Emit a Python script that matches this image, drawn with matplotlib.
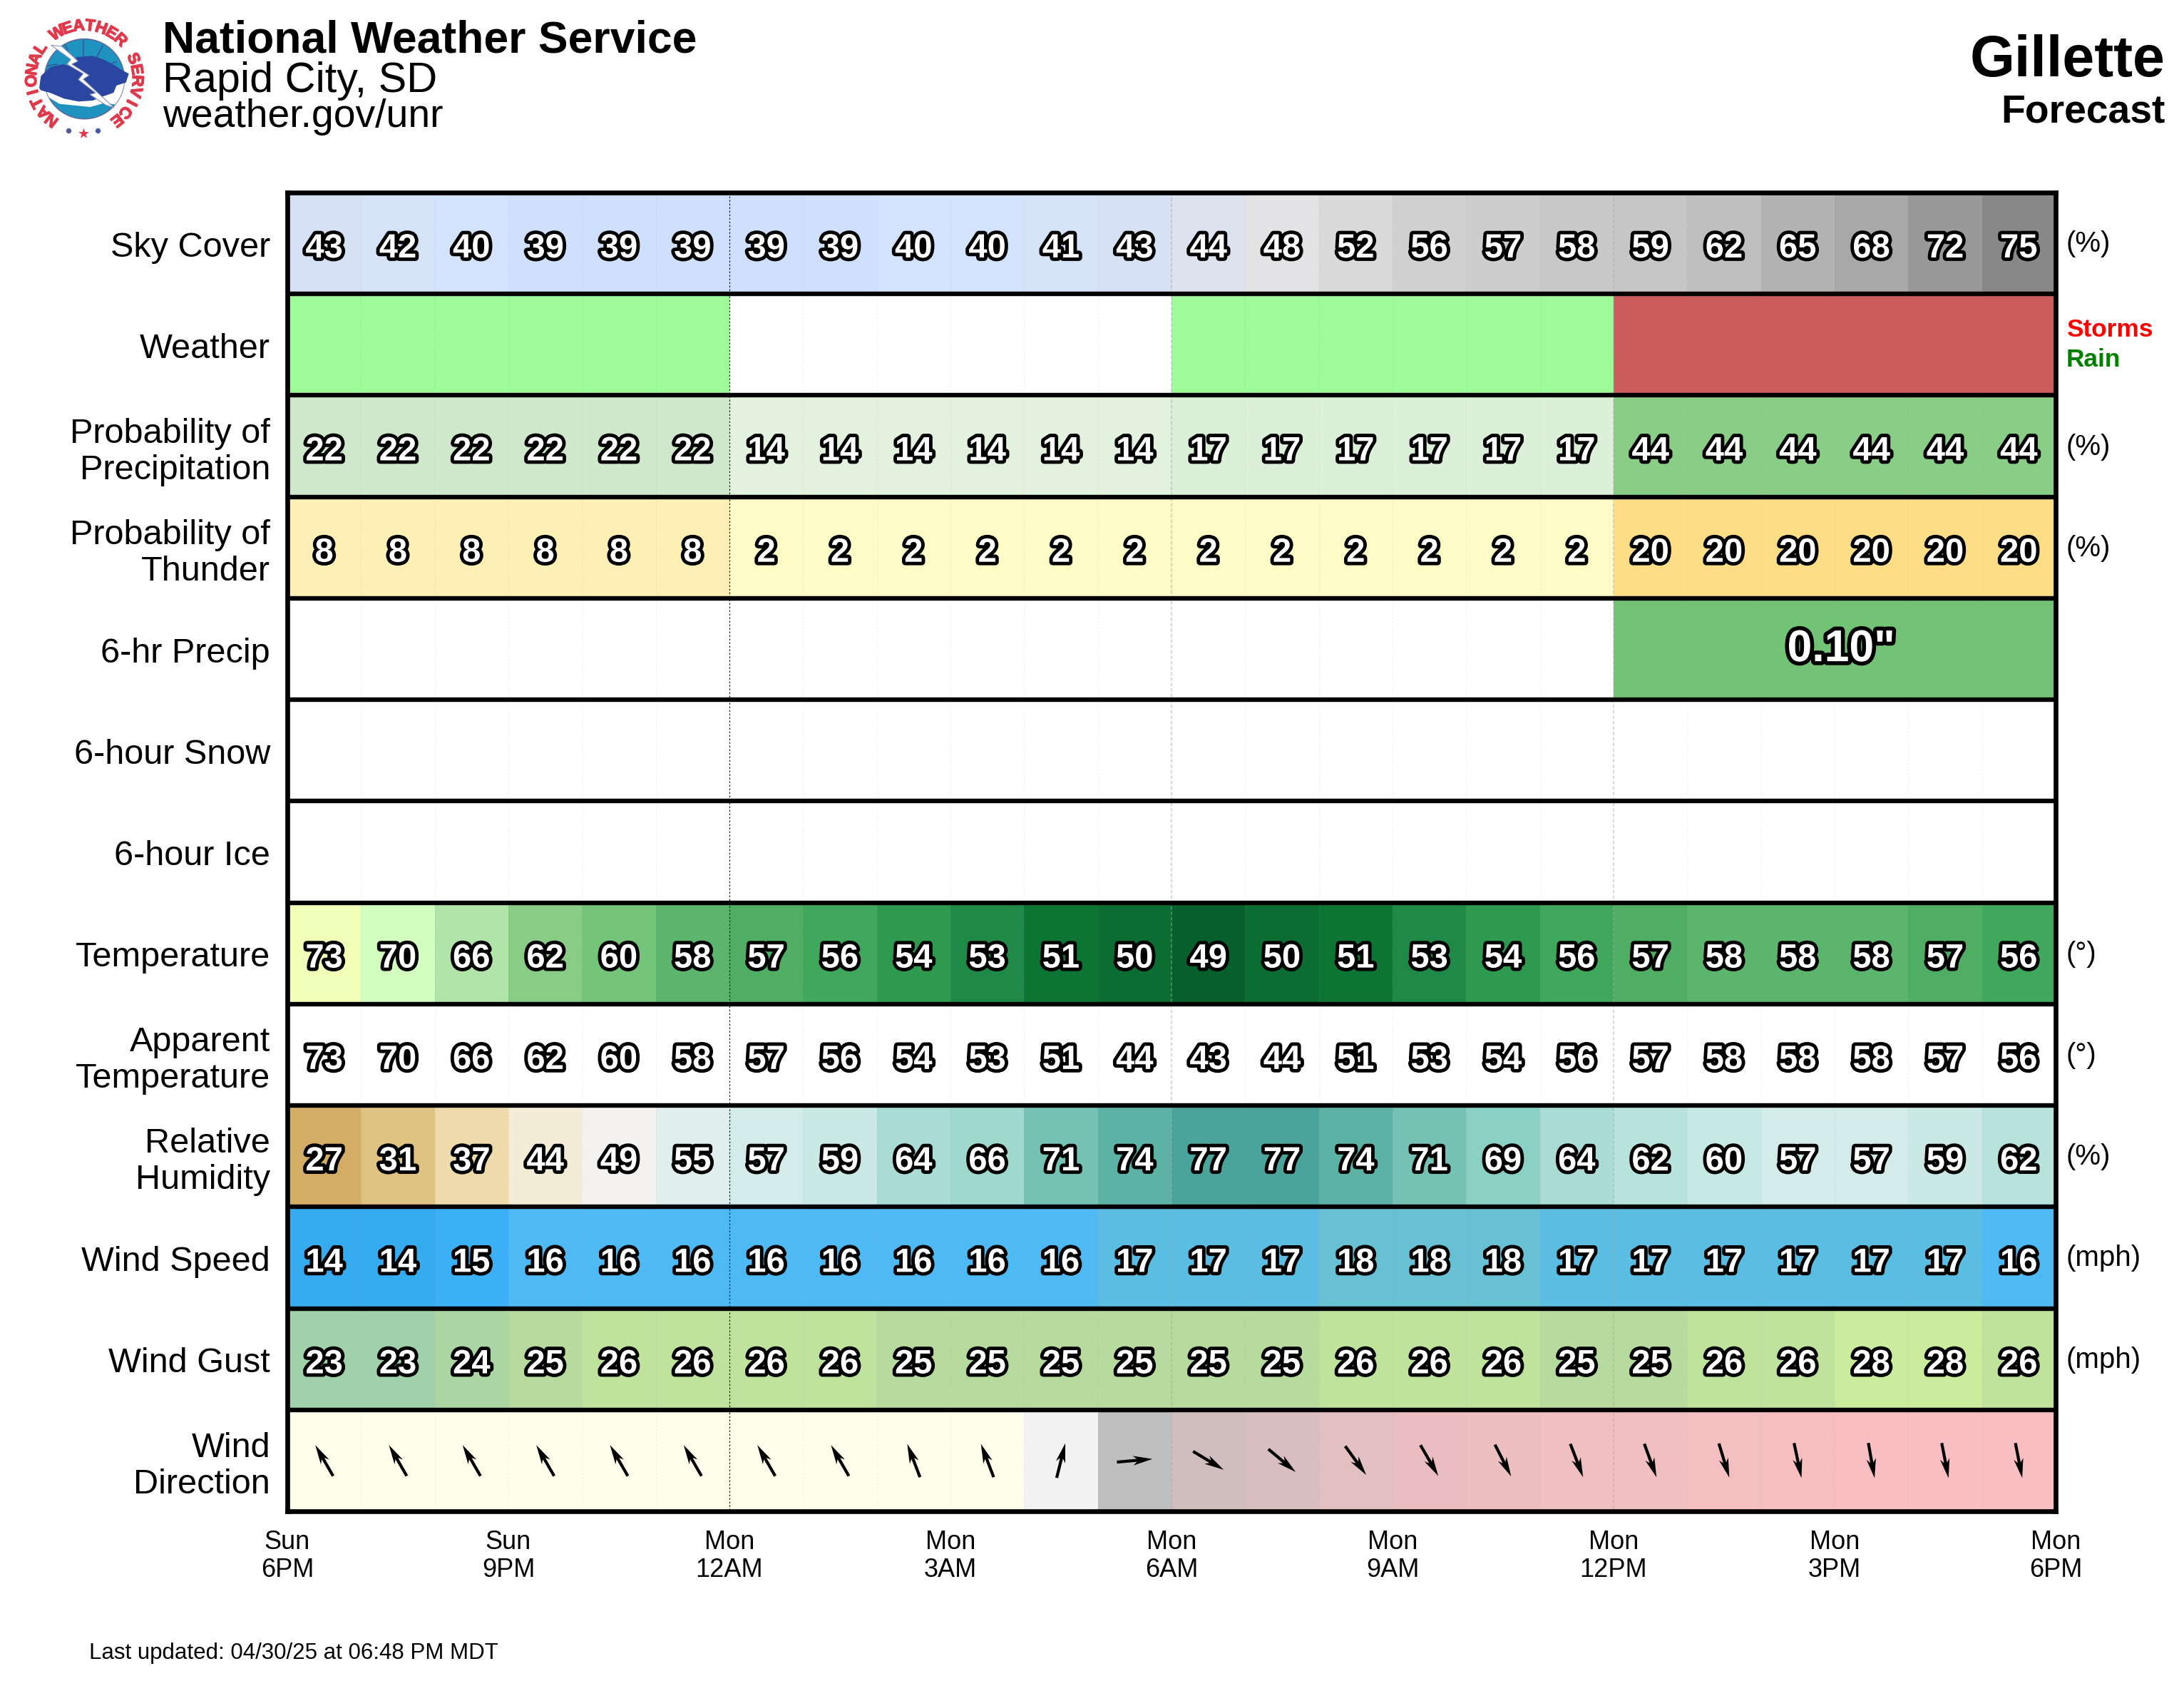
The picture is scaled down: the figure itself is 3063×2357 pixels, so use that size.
import numpy as np
import matplotlib
matplotlib.use("Agg")
import matplotlib.pyplot as plt
import matplotlib.patheffects as pe
from matplotlib.patches import Circle, Polygon

plt.rcParams['font.family'] = ['Liberation Sans', 'DejaVu Sans']

W, H, DPI = 3063, 2357, 200

# ---------- data ----------
row_labels = ["Sky Cover", "Weather", "Probability of\nPrecipitation", "Probability of\nThunder",
              "6-hr Precip", "6-hour Snow", "6-hour Ice", "Temperature", "Apparent\nTemperature",
              "Relative\nHumidity", "Wind Speed", "Wind Gust", "Wind\nDirection"]
tick_labels = ["Sun\n6PM", "Sun\n9PM", "Mon\n12AM", "Mon\n3AM", "Mon\n6AM", "Mon\n9AM",
               "Mon\n12PM", "Mon\n3PM", "Mon\n6PM"]
unit_labels = {0: "(%)", 2: "(%)", 3: "(%)", 7: "(°)", 8: "(°)", 9: "(%)", 10: "(mph)", 11: "(mph)"}

sky = [43, 42, 40, 39, 39, 39, 39, 39, 40, 40, 41, 43, 44, 48, 52, 56, 57, 58, 59, 62, 65, 68, 72, 75]
weather = ["rain"] * 6 + ["none"] * 6 + ["rain"] * 6 + ["storms"] * 6
pop = [22] * 6 + [14] * 6 + [17] * 6 + [44] * 6
thunder = [8] * 6 + [2] * 12 + [20] * 6
temp = [73, 70, 66, 62, 60, 58, 57, 56, 54, 53, 51, 50, 49, 50, 51, 53, 54, 56, 57, 58, 58, 58, 57, 56]
apparent = [73, 70, 66, 62, 60, 58, 57, 56, 54, 53, 51, 44, 43, 44, 51, 53, 54, 56, 57, 58, 58, 58, 57, 56]
humidity = [27, 31, 37, 44, 49, 55, 57, 59, 64, 66, 71, 74, 77, 77, 74, 71, 69, 64, 62, 60, 57, 57, 59, 62]
wind_speed = [14, 14, 15, 16, 16, 16, 16, 16, 16, 16, 16, 17, 17, 17, 18, 18, 18, 17, 17, 17, 17, 17, 17, 16]
wind_gust = [23, 23, 24, 25, 26, 26, 26, 26, 25, 25, 25, 25, 25, 25, 26, 26, 26, 25, 25, 26, 26, 28, 28, 26]
wind_dir = [150, 150, 150, 150, 150, 150, 150, 150, 159, 159, 194, 265,
            301, 310, 324, 330, 333, 339, 340, 343, 348, 350, 349, 349]
qpf_text = '0.10"'
qpf_hours = [18, 24]

sky_colors = {43: "#d6e1f5", 42: "#d6e2f8", 40: "#d3e2fd", 39: "#cfe0fe", 41: "#d6e2f7", 44: "#dde3ee",
              48: "#e3e3e6", 52: "#dadada", 56: "#d0d0d0", 57: "#cdcdcd", 58: "#c8c8c8", 59: "#c6c6c6",
              62: "#bfbfbf", 65: "#b3b3b3", 68: "#a8a8a8", 72: "#999999", 75: "#888888"}
weather_colors = {"rain": "#9dfb98", "none": "#ffffff", "storms": "#cc5c5c"}
pop_colors = {22: "#cfe8cc", 14: "#e3f2df", 17: "#dcefd8", 44: "#89cd87"}
thunder_colors = {8: "#fef0b4", 2: "#fefbc6", 20: "#fedd87"}
qpf_color = "#72c375"
temp_colors = {73: "#f2ffb6", 70: "#d2ffc0", 66: "#b0e4a8", 62: "#88cc85", 60: "#74c47a", 58: "#5bb56c",
               57: "#50ae64", 56: "#3fa85c", 54: "#2e9a50", 53: "#1f8a47", 51: "#0d7534", 50: "#0b6d31",
               49: "#075f2b"}
rh_colors = {27: "#d3ad66", 31: "#e0c283", 37: "#efdaab", 44: "#f5ecd7", 49: "#f3f2ee", 55: "#e0efee",
             57: "#d3ece9", 59: "#cbe9e4", 60: "#c7e9e4", 62: "#b8e3dd", 64: "#aadcd5", 66: "#9fd8cd",
             69: "#8ad0c4", 71: "#75c1b4", 74: "#5db2a6", 77: "#4ba49b"}
speed_colors = {14: "#36abef", 15: "#3bb0f6", 16: "#4fb9f4", 17: "#5bbde2", 18: "#68c0d3"}
gust_colors = {23: "#a0d1aa", 24: "#abd6a3", 25: "#b7da9e", 26: "#bfe29c", 28: "#cbec9c"}
dir_colors = ["#fffeea"] * 10 + ["#f2f2f2", "#bfbfbf", "#d0bdbd", "#d8bec0", "#e2bfc0", "#eabec0", "#edbfc1",
              "#efbfc1", "#f1bfc1", "#f3bfc1", "#f7bec0", "#f8bec1", "#f8bec1", "#f8bec1"]

# ---------- figure ----------
fig = plt.figure(figsize=(W / DPI, H / DPI), dpi=DPI, facecolor="white")
L, R, T, B = 403, 2883, 270, 2119
ax = fig.add_axes([L / W, 1 - B / H, (R - L) / W, (B - T) / H])
ax.set_xlim(0, 24)
ax.set_ylim(13, 0)
ax.set_xticks([])
ax.set_yticks([])
ax.set_zorder(2)
for s in ax.spines.values():
    s.set_linewidth(2.4)
    s.set_zorder(6)

hours = np.arange(24)


def fill(row, colors):
    ax.bar(hours, 1, width=1.0, bottom=row, align="edge", color=colors, linewidth=0, zorder=1)


def numbers(row, vals):
    for h, v in zip(hours, vals):
        ax.text(h + 0.5, row + 0.64, str(v), ha="center", va="baseline", color="white", fontsize=17.0,
                fontweight="bold", zorder=5,
                path_effects=[pe.withStroke(linewidth=3.5, foreground="black")])


fill(0, [sky_colors[v] for v in sky])
fill(1, [weather_colors[v] for v in weather])
fill(2, [pop_colors[v] for v in pop])
fill(3, [thunder_colors[v] for v in thunder])
fill(4, [qpf_color if qpf_hours[0] <= h < qpf_hours[1] else "#ffffff" for h in hours])
fill(7, [temp_colors[v] for v in temp])
fill(9, [rh_colors[v] for v in humidity])
fill(10, [speed_colors[v] for v in wind_speed])
fill(11, [gust_colors[v] for v in wind_gust])
fill(12, dir_colors)

# grid
ax.vlines(np.arange(1, 24), 0, 13, color="#999999", alpha=0.15, lw=0.4, ls=(0, (2, 2)), zorder=2)
ax.vlines([12, 18], 0, 13, color="#aaaaaa", alpha=0.55, lw=0.55, ls=(0, (3, 2)), zorder=2)
ax.vlines([6], 0, 13, color="#222222", lw=0.45, ls=(0, (2, 2)), zorder=2)
ax.hlines(np.arange(1, 13), 0, 24, color="black", lw=2.3, zorder=4)

numbers(0, sky)
numbers(2, pop)
numbers(3, thunder)
numbers(7, temp)
numbers(8, apparent)
numbers(9, humidity)
numbers(10, wind_speed)
numbers(11, wind_gust)
ax.text(sum(qpf_hours) / 2 + 0.09, 4.62, qpf_text, ha="center", va="baseline", color="white", fontsize=22.5,
        fontweight="bold", zorder=5, path_effects=[pe.withStroke(linewidth=4.0, foreground="black")])

# wind arrows: they point where the wind blows to
head = np.deg2rad(np.array(wind_dir) + 180)
ARROW = 50
ax.quiver(hours + 0.5, np.full(24, 12.5), ARROW * np.sin(head), ARROW * np.cos(head), angles="uv",
          scale_units="dots", scale=1, units="dots", width=4.2, headwidth=3.2, headlength=6.5,
          headaxislength=5.2, pivot="mid", color="black", zorder=5)


def ftext(x, y, s, **kw):
    fig.text(x / W, 1 - y / H, s, **kw)


# labels
for i, lab in enumerate(row_labels):
    yc = T + (B - T) * (i + 0.5) / 13
    ftext(379, yc + (8 if "\n" in lab else 6), lab, ha="right", va="center", fontsize=17.5, linespacing=1.17)
for i, u in unit_labels.items():
    yc = T + (B - T) * (i + 0.5) / 13
    ftext(2898, yc + 1, u, ha="left", va="center", fontsize=14.5)
ftext(2898, 472, "Storms", ha="left", va="baseline", fontsize=12.7, fontweight="bold", color="#ff0000")
ftext(2898, 514, "Rain", ha="left", va="baseline", fontsize=12.7, fontweight="bold", color="#008000")

for k, lab in enumerate(tick_labels):
    x = L + (R - L) * k * 3 / 24
    ftext(x, 2182, lab, ha="center", va="center", fontsize=13, linespacing=1.18)

ftext(228, 74, "National Weather Service", ha="left", va="baseline", fontsize=22.5, fontweight="bold")
ftext(228, 129, "Rapid City, SD", ha="left", va="baseline", fontsize=21.4)
ftext(228, 178, "weather.gov/unr", ha="left", va="baseline", fontsize=19.9)
ftext(3037, 107, "Gillette", ha="right", va="baseline", fontsize=29.1, fontweight="bold")
ftext(3037, 172, "Forecast", ha="right", va="baseline", fontsize=19.9, fontweight="bold")
ftext(125, 2326, "Last updated: 04/30/25 at 06:48 PM MDT", ha="left", va="baseline", fontsize=11.25)

# ---------- logo ----------
lg = fig.add_axes([20 / W, 1 - 205 / H, 200 / W, 190 / H])
lg.set_xlim(0, 600)
lg.set_ylim(570, 0)
lg.axis("off")
TEAL, NAVY, RED = "#1f93bf", "#2b46a0", "#e0394c"
disk = Circle((295, 287), 168, fc=TEAL, ec="#5a6aa0", lw=0.6, zorder=1)
lg.add_patch(disk)
band = Polygon([(100, 330), (470, 300), (470, 350), (425, 395), (380, 388), (320, 405), (250, 398), (190, 392),
                (120, 350)], fc="white", ec="none", zorder=2)
lg.add_patch(band)
band.set_clip_path(disk)
for seg in [((290, 125), (290, 190)), ((372, 148), (348, 192)), ((215, 145), (238, 205)), ((140, 232), (180, 225)),
            ((430, 215), (400, 225))]:
    lg.plot(*zip(*seg), color="#345a9e", lw=0.6, zorder=3)
cloud = [(105, 325), (112, 275), (150, 238), (205, 225), (240, 235), (262, 195), (330, 190), (375, 205), (420, 228),
         (445, 245), (482, 265), (470, 302), (430, 315), (418, 345), (375, 360), (330, 378), (270, 382), (210, 370),
         (150, 345), (112, 335)]
lg.add_patch(Polygon(cloud, fc=NAVY, ec="none", zorder=4))
bolt = [(155, 145), (200, 150), (268, 212), (242, 225), (315, 272), (290, 288), (340, 335), (420, 408), (385, 397),
        (318, 352), (342, 346), (270, 290), (290, 265), (222, 225), (238, 205)]
lg.add_patch(Polygon(bolt, fc="white", ec="#8a93b8", lw=0.4, zorder=5))
ring = "NATIONAL WEATHER SERVICE"
angles = np.linspace(232, -52, len(ring))
for ch, a in zip(ring, angles):
    t = np.deg2rad(a)
    lg.text(295 + 222 * np.cos(t), 285 - 222 * np.sin(t), ch, rotation=a - 90, rotation_mode="anchor", ha="center",
            va="center", fontsize=8.2, fontweight="bold", color=RED, zorder=6,
            path_effects=[pe.withStroke(linewidth=0.5, foreground=RED)])
lg.scatter([227, 352], [505, 505], s=7, color="#4a5a9a", linewidths=0, zorder=6)
lg.scatter([290, ], [515], s=32, marker="*", color=RED, linewidths=0, zorder=6)

fig.savefig("out.png", dpi=DPI, facecolor="white")
